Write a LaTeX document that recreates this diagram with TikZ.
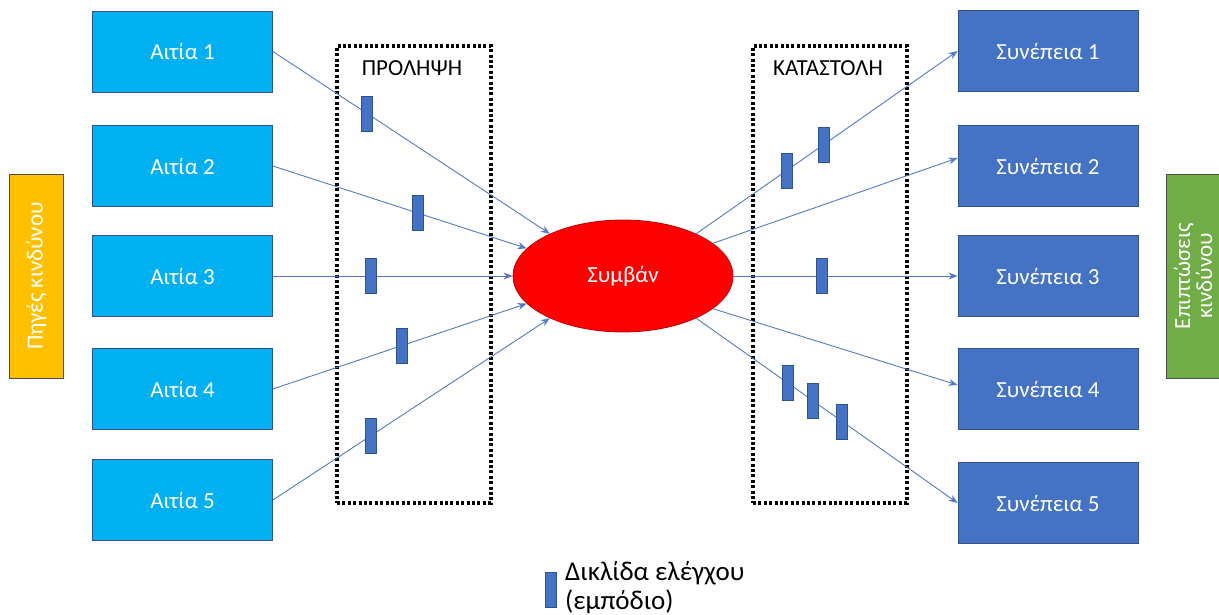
\documentclass[tikz,border=0pt]{standalone}
\usepackage{fontspec}
\setmainfont{Carlito}
\usetikzlibrary{shapes.geometric,arrows.meta}
\definecolor{cyanbox}{HTML}{00B0F0}
\definecolor{bluebox}{HTML}{4472C4}
\definecolor{blueborder}{HTML}{2F528F}
\definecolor{orangebox}{HTML}{FFC000}
\definecolor{greenbox}{HTML}{70AD47}
\definecolor{eventred}{HTML}{FF0000}
\definecolor{eventborder}{HTML}{C00000}
\definecolor{linkblue}{HTML}{5479C0}
\begin{document}
\begin{tikzpicture}[x=1pt,y=-1pt,
  cause/.style={draw=blueborder, fill=cyanbox, minimum width=180pt, minimum height=81pt,
    text=white, font=\fontsize{23}{27}\selectfont, inner sep=0pt, line width=0.8pt},
  effect/.style={cause, fill=bluebox},
  sidebox/.style={draw=black!70, line width=0.8pt, minimum width=204pt, minimum height=54pt,
    rotate=90, text=white, font=\fontsize{23}{25}\selectfont, inner sep=0pt, align=center},
  link/.style={draw=linkblue, line width=0.9pt, -{Stealth[length=9pt,width=7pt]}},
  barrier/.style={draw=blueborder, fill=bluebox, minimum width=11pt, minimum height=35pt,
    inner sep=0pt, line width=0.8pt},
  zone/.style={draw=black, line width=3.2pt, dash pattern=on 3pt off 2.4pt,
    minimum width=154pt, minimum height=457pt, inner sep=0pt},
  zonelabel/.style={font=\fontsize{23}{27}\selectfont, text=black, inner sep=0pt},
  legendtext/.style={font=\fontsize{27}{31}\selectfont, text=black, inner sep=0pt, anchor=base west}
]
\useasboundingbox (0,0) rectangle (1219,615);

% dotted zones
\node[zone] (prev) at (414,274.5) {};
\node[zone] (supp) at (830,274.5) {};
\node[zonelabel] (prevlabel) at (412,68) {ΠΡΟΛΗΨΗ};
\node[zonelabel] (supplabel) at (828,68) {ΚΑΤΑΣΤΟΛΗ};

% side labels
\node[sidebox, fill=orangebox] (src) at (36.5,276) {Πηγές κινδύνου};
\node[sidebox, fill=greenbox] (imp) at (1193,276) {Επιπτώσεις\\[-3pt]κινδύνου};

% causes
\node[cause] (a1) at (182.5,51.5) {Αιτία 1};
\node[cause] (a2) at (182.5,166) {Αιτία 2};
\node[cause] (a3) at (182.5,276) {Αιτία 3};
\node[cause] (a4) at (182.5,389) {Αιτία 4};
\node[cause] (a5) at (182.5,500) {Αιτία 5};

% consequences
\node[effect] (c1) at (1048,51) {Συνέπεια 1};
\node[effect] (c2) at (1048,166) {Συνέπεια 2};
\node[effect] (c3) at (1048,276) {Συνέπεια 3};
\node[effect] (c4) at (1048,389) {Συνέπεια 4};
\node[effect] (c5) at (1048,503) {Συνέπεια 5};

% event
\node[ellipse, draw=eventborder, fill=eventred, line width=0.8pt, minimum width=220pt,
  minimum height=112pt, inner sep=0pt, text=white, font=\fontsize{23}{27}\selectfont] (ev) at (623,276) {Συμβάν};

% left connectors with barriers
\draw[link] (a1.east) -- node[barrier, pos=0.34] (b1) {} (ev.150);
\draw[link] (a2.east) -- node[barrier, pos=0.57] (b2) {} (ev.164);
\draw[link] (a3.east) -- node[barrier, pos=0.41] (b3) {} (ev.180);
\draw[link] (a4.east) -- node[barrier, pos=0.51] (b4) {} (ev.196);
\draw[link] (a5.east) -- node[barrier, pos=0.355] (b5) {} (ev.210);

% right connectors with barriers
\draw[link] (ev.30) -- node[barrier, pos=0.346] (k1) {} node[barrier, pos=0.487] (k2) {} (c1.west);
\draw[link] (ev.20) -- ([yshift=8pt]c2.west);
\draw[link] (ev.0) -- node[barrier, pos=0.395] (k3) {} (c3.west);
\draw[link] (ev.340) -- ([yshift=4pt]c4.west);
\draw[link] (ev.330) -- node[barrier, pos=0.35] (k4) {} node[barrier, pos=0.447] (k5) {}
  node[barrier, pos=0.559] (k6) {} (c5.west);

% legend
\node[barrier] (leg) at (550.5,589.5) {};
\node[legendtext] (legt1) at (565,580) {Δικλίδα ελέγχου};
\node[legendtext] (legt2) at (565,609) {(εμπόδιο)};
\end{tikzpicture}
\end{document}
